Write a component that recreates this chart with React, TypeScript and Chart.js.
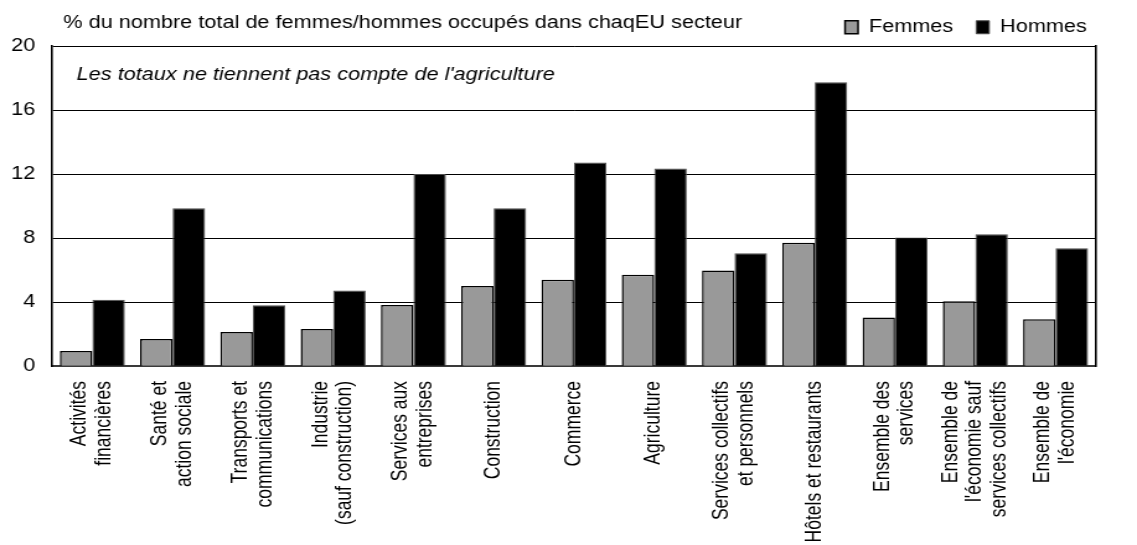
import React, { useEffect, useRef } from "react";
import { Chart, registerables } from "chart.js";

Chart.register(...registerables);

// ---- data ----
const categories: string[][] = [
  ["Activités", "financières"],
  ["Santé et", "action sociale"],
  ["Transports et", "communications"],
  ["Industrie", "(sauf construction)"],
  ["Services aux", "entreprises"],
  ["Construction"],
  ["Commerce"],
  ["Agriculture"],
  ["Services collectifs", "et personnels"],
  ["Hôtels et restaurants"],
  ["Ensemble des", "services"],
  ["Ensemble de", "l'économie sauf", "services collectifs"],
  ["Ensemble de", "l'économie"],
];
const femmes = [0.96, 1.71, 2.14, 2.33, 3.83, 5.02, 5.41, 5.71, 5.98, 7.71, 3.04, 4.06, 2.94];
const hommes = [4.16, 9.87, 3.81, 4.73, 12.0, 9.87, 12.73, 12.35, 7.06, 17.73, 8.04, 8.25, 7.37];
const yTicks = [0, 4, 8, 12, 16, 20];
const seriesNames = ["Femmes", "Hommes"];
const titleText = "% du nombre total de femmes/hommes occupés dans chaqEU secteur";
const noteText = "Les totaux ne tiennent pas compte de l'agriculture";

// ---- layout / style ----
const FONT = '"Liberation Sans", Arial, Helvetica, sans-serif';
const FS = 17.5;
const CSS_W = 1137;
const CSS_H = 545;
const STRETCH = 1.24;
const CANVAS_W = Math.round(CSS_W / STRETCH);

const textPlugin = {
  id: "texts",
  afterDraw(chart: any) {
    const ctx = chart.ctx as CanvasRenderingContext2D;
    const xs = chart.scales.x;
    ctx.save();
    ctx.fillStyle = "#000";
    ctx.textBaseline = "middle";
    ctx.textAlign = "left";
    ctx.font = `${FS}px ${FONT}`;
    ctx.fillText(titleText, 51, 23);
    ctx.font = `italic ${FS}px ${FONT}`;
    ctx.fillText(noteText, 61.8, 75);

    ctx.font = `${FS}px ${FONT}`;
    ctx.textAlign = "right";
    const lh = 19.6;
    categories.forEach((lines, i) => {
      const cx = xs.getPixelForValue(i);
      lines.forEach((line, j) => {
        const px = cx + (j - (lines.length - 1) / 2) * lh;
        ctx.save();
        ctx.translate(px, xs.top + 14.7);
        ctx.rotate(-Math.PI / 2);
        ctx.fillText(line, 0, 0);
        ctx.restore();
      });
    });
    ctx.restore();
  },
};

export default function App() {
  const ref = useRef<HTMLCanvasElement | null>(null);

  useEffect(() => {
    if (!ref.current) return;
    const tickFont = { family: FONT, size: FS };
    const chart = new Chart(ref.current, {
      type: "bar",
      data: {
        labels: categories.map((l) => l.join(" ")),
        datasets: [
          {
            label: seriesNames[0],
            data: femmes,
            backgroundColor: "#999999",
            borderColor: "#000000",
            borderWidth: 1.5,
            barPercentage: 1,
            categoryPercentage: 0.81,
            yAxisID: "y",
          },
          {
            label: seriesNames[1],
            data: hommes,
            backgroundColor: "#000000",
            borderColor: "#4d4d4d",
            borderWidth: 1,
            barPercentage: 1,
            categoryPercentage: 0.81,
            yAxisID: "y",
          },
        ],
      },
      options: {
        responsive: false,
        animation: false,
        devicePixelRatio: 1,
        events: [],
        layout: { padding: { top: 0, right: 21.9, bottom: 0, left: 0 } },
        plugins: {
          legend: {
            display: true,
            position: "top",
            align: "end",
            labels: {
              boxWidth: 10.5,
              boxHeight: 13,
              padding: 18.5,
              color: "#000",
              font: { family: FONT, size: FS },
            },
          },
          title: { display: false },
          tooltip: { enabled: false },
        },
        scales: {
          x: {
            type: "category",
            grid: { display: false, drawTicks: false },
            border: { display: true, color: "#3a3a3a", width: 2 },
            ticks: { display: false },
            afterFit: (s: any) => {
              s.height = 178.7;
            },
          },
          y: {
            position: "left",
            min: 0,
            max: 20,
            afterBuildTicks: (s: any) => {
              s.ticks = yTicks.map((v) => ({ value: v }));
            },
            ticks: { padding: 13.7, color: "#000", font: tickFont },
            grid: { color: "#000", lineWidth: 1, drawTicks: false },
            border: { color: "#000", width: 1.6 },
            afterFit: (s: any) => {
              s.width = 42.1;
            },
          },
          y2: {
            position: "right",
            min: 0,
            max: 20,
            afterBuildTicks: (s: any) => {
              s.ticks = yTicks.map((v) => ({ value: v }));
            },
            ticks: { padding: 13.7, color: "#000", font: tickFont },
            grid: { display: false, drawTicks: false },
            border: { color: "#000", width: 1.6 },
            afterFit: (s: any) => {
              s.width = 11.4;
            },
          },
        },
      },
      plugins: [textPlugin],
    } as any);
    return () => chart.destroy();
  }, []);

  return (
    <div
      style={{
        position: "fixed",
        left: 0,
        top: 0,
        width: CSS_W,
        height: CSS_H,
        background: "#fff",
      }}
    >
      <canvas
        ref={ref}
        width={CANVAS_W}
        height={CSS_H}
        style={{ width: `${CSS_W}px`, height: `${CSS_H}px`, display: "block" }}
      />
    </div>
  );
}
